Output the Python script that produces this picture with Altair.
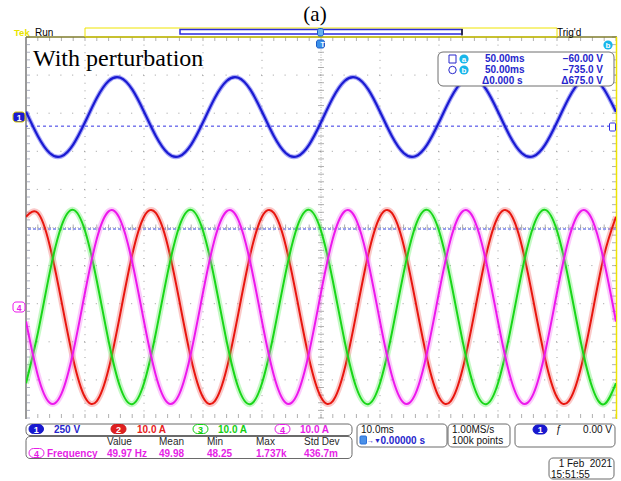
import altair as alt
import pandas as pd

# ---- acquisition record: time (ms, trigger at 0) and channel samples ----
time_ms = [-50, -48, -46, -44, -42, -40, -38, -36, -34, -32,
           -30, -28, -26, -24, -22, -20, -18, -16, -14, -12,
           -10, -8, -6, -4, -2, 0, 2, 4, 6, 8,
           10, 12, 14, 16, 18, 20, 22, 24, 26, 28,
           30, 32, 34, 36, 38, 40, 42, 44, 46, 48, 50]

# channel 1: grid voltage (V)
ch1_volts = [34.5, -124.8, -236.4, -257.7, -180.7, -34.5, 124.8, 236.4, 257.7, 180.7,
             34.5, -124.8, -236.4, -257.7, -180.7, -34.5, 124.8, 236.4, 257.7, 180.7,
             34.5, -124.8, -236.4, -257.7, -180.7, -34.5, 124.8, 236.4, 257.7, 180.7,
             34.5, -124.8, -236.4, -257.7, -180.7, -34.5, 124.8, 236.4, 257.7, 180.7,
             34.5, -124.8, -236.4, -257.7, -180.7, -34.5, 124.8, 236.4, 257.7, 180.7,
             34.5]

# channels 2-4: phase currents (A)
ch2_amps = [23.7, 24.7, 16.3, 1.6, -13.7, -23.7, -24.7, -16.3, -1.6, 13.7,
            23.7, 24.7, 16.3, 1.6, -13.7, -23.7, -24.7, -16.3, -1.6, 13.7,
            23.7, 24.7, 16.3, 1.6, -13.7, -23.7, -24.7, -16.3, -1.6, 13.7,
            23.7, 24.7, 16.3, 1.6, -13.7, -23.7, -24.7, -16.3, -1.6, 13.7,
            23.7, 24.7, 16.3, 1.6, -13.7, -23.7, -24.7, -16.3, -1.6, 13.7,
            23.7]
ch3_amps = [-20.0, -6.9, 8.9, 21.2, 25.5, 20.0, 6.9, -8.9, -21.2, -25.5,
            -20.0, -6.9, 8.9, 21.2, 25.5, 20.0, 6.9, -8.9, -21.2, -25.5,
            -20.0, -6.9, 8.9, 21.2, 25.5, 20.0, 6.9, -8.9, -21.2, -25.5,
            -20.0, -6.9, 8.9, 21.2, 25.5, 20.0, 6.9, -8.9, -21.2, -25.5,
            -20.0, -6.9, 8.9, 21.2, 25.5, 20.0, 6.9, -8.9, -21.2, -25.5,
            -20.0]
ch4_amps = [-3.8, -17.9, -25.1, -22.8, -11.8, 3.8, 17.9, 25.1, 22.8, 11.8,
            -3.8, -17.9, -25.1, -22.8, -11.8, 3.8, 17.9, 25.1, 22.8, 11.8,
            -3.8, -17.9, -25.1, -22.8, -11.8, 3.8, 17.9, 25.1, 22.8, 11.8,
            -3.8, -17.9, -25.1, -22.8, -11.8, 3.8, 17.9, 25.1, 22.8, 11.8,
            -3.8, -17.9, -25.1, -22.8, -11.8, 3.8, 17.9, 25.1, 22.8, 11.8,
            -3.8]

# horizontal cursors a / b on channel 1 (V)
cursor_volts = [-60.0, -735.0]

# vertical settings (per division) and channel positions (divisions)
CH1_PER_DIV = 250.0
CUR_PER_DIV = 10.0
CH1_POS = 2.90
CUR_POS = -2.087

# graticule geometry in pixels
W, H = 590, 381
LEFT, TOP = 26, 37

xs = alt.Scale(domain=[-50, 50], nice=False, zero=False)
ys = alt.Scale(domain=[-5, 5], nice=False, zero=False)

ONE = pd.DataFrame({"k": [0]})


def to_div(values, per_div, pos):
    return pd.DataFrame({"t": time_ms, "div": [v / per_div + pos for v in values]})


def trace(df, core, halo, core_w, halo_w, halo_op):
    base = alt.Chart(df).encode(
        x=alt.X("t:Q", scale=xs, axis=None),
        y=alt.Y("div:Q", scale=ys, axis=None),
    )
    return [
        base.mark_line(color=halo, strokeWidth=halo_w, opacity=halo_op,
                       interpolate="natural", clip=True),
        base.mark_line(color=core, strokeWidth=core_w, interpolate="natural", clip=True),
    ]


def px_x(v):
    return alt.value(v - LEFT)


def px_y(v):
    return alt.value(v - TOP)


def txt(x, y, s, color="#000000", size=10, weight="bold", align="left",
        font="Liberation Sans", baseline="middle"):
    return alt.Chart(ONE).mark_text(
        text=s, align=align, baseline=baseline, font=font, fontSize=size,
        fontWeight=weight, color=color,
    ).encode(x=px_x(x), y=px_y(y))


def box(x1, y1, x2, y2, stroke="#6a6a6a", fill="transparent", r=4, sw=1):
    return alt.Chart(ONE).mark_rect(
        cornerRadius=r, fill=fill, stroke=stroke, strokeWidth=sw,
    ).encode(x=px_x(x1), x2=px_x(x2), y=px_y(y1), y2=px_y(y2))


def seg(x1, y1, x2, y2, color, sw=1, dash=None):
    kw = dict(color=color, strokeWidth=sw)
    if dash:
        kw["strokeDash"] = dash
    return alt.Chart(ONE).mark_rule(**kw).encode(
        x=px_x(x1), x2=px_x(x2), y=px_y(y1), y2=px_y(y2))


def dot(x, y, color, size=80, filled=True, sw=1):
    return alt.Chart(ONE).mark_point(
        shape="circle", filled=filled, size=size, color=color,
        strokeWidth=sw, opacity=1,
    ).encode(x=px_x(x), y=px_y(y))


layers = []

# ---- graticule ----
grid_x = pd.DataFrame({"gx": [-40, -30, -20, -10, 10, 20, 30, 40]})
grid_y = pd.DataFrame({"gy": [-4, -3, -2, -1, 1, 2, 3, 4]})
layers.append(alt.Chart(grid_x).mark_rule(color="#9c9c9c", strokeWidth=1, strokeDash=[1, 6.62])
              .encode(x=alt.X("gx:Q", scale=xs, axis=None)))
layers.append(alt.Chart(grid_y).mark_rule(color="#9c9c9c", strokeWidth=1, strokeDash=[1, 10.8])
              .encode(y=alt.Y("gy:Q", scale=ys, axis=None)))
layers.append(alt.Chart(pd.DataFrame({"gx": [0]})).mark_rule(color="#b4b4b4", strokeWidth=1, strokeDash=[1, 1.5])
              .encode(x=alt.X("gx:Q", scale=xs, axis=None)))
layers.append(alt.Chart(pd.DataFrame({"gy": [0]})).mark_rule(color="#b4b4b4", strokeWidth=1, strokeDash=[1, 1.5])
              .encode(y=alt.Y("gy:Q", scale=ys, axis=None)))

minor_x = pd.DataFrame({"mx": [i * 2 for i in range(-25, 26)]})
minor_y = pd.DataFrame({"my": [i * 0.2 for i in range(-25, 26)]})
tick_col = "#8e8e8e"
for yy in (2, H - 2, H / 2):
    layers.append(alt.Chart(minor_x).mark_tick(orient="vertical", size=6 if yy == H / 2 else 4,
                                               thickness=1, color=tick_col)
                  .encode(x=alt.X("mx:Q", scale=xs, axis=None), y=alt.value(yy)))
for xx in (2, W - 2, W / 2):
    layers.append(alt.Chart(minor_y).mark_tick(orient="horizontal", size=6 if xx == W / 2 else 4,
                                               thickness=1, color="#8a90a8" if xx == 2 else tick_col)
                  .encode(y=alt.Y("my:Q", scale=ys, axis=None), x=alt.value(xx)))

# frame edges
layers.append(seg(26, 37, 26, 419, "#9a9a9a", sw=2))
layers.append(seg(26, 37, 617, 37, "#7f7c2c", sw=1.5))
layers.append(seg(616.5, 37, 616.5, 419, "#efe400", sw=1.5))

# ---- cursors ----
cur_df = pd.DataFrame({"div": [v / CH1_PER_DIV + CH1_POS for v in cursor_volts], "id": ["a", "b"]})
layers.append(alt.Chart(cur_df.iloc[[1]]).mark_rule(color="#98a0ec", strokeWidth=2, strokeDash=[3, 2])
              .encode(y=alt.Y("div:Q", scale=ys, axis=None)))
layers.append(alt.Chart(cur_df.iloc[[0]]).mark_rule(color="#3434e4", strokeWidth=1, strokeDash=[3, 3])
              .encode(y=alt.Y("div:Q", scale=ys, axis=None)))

# ---- waveforms ----
layers += trace(to_div(ch2_amps, CUR_PER_DIV, CUR_POS), "#e8160f", "#f26060", 2.0, 6, 0.35)
layers += trace(to_div(ch3_amps, CUR_PER_DIV, CUR_POS), "#19d619", "#5cec5c", 2.0, 6, 0.35)
layers += trace(to_div(ch4_amps, CUR_PER_DIV, CUR_POS), "#ec18ec", "#f46ef4", 2.0, 6, 0.35)
layers += trace(to_div(ch1_volts, CH1_PER_DIV, CH1_POS), "#1a1ad2", "#6262f0", 2.2, 4.5, 0.55)

# ---- header ----
BLUE = "#2626cc"
CYAN = "#18b6ea"
layers.append(txt(315, 21, "(a)", size=21, weight="normal", align="center",
                  font="Liberation Serif", baseline="alphabetic"))
layers.append(txt(14, 35.5, "Tek", color="#e8e400", size=9.5, baseline="alphabetic"))
layers.append(txt(35, 35.5, "Run", size=10, weight="normal", baseline="alphabetic"))
layers.append(box(85, 28, 557, 37, stroke="#efe400", r=0))
layers.append(box(180, 29.5, 462, 34, stroke="#2a2ae0", fill="#ffffff", r=0, sw=1.5))
layers.append(seg(462, 29, 462, 35.5, "#202020", sw=1.5))
layers.append(box(317.5, 28.5, 323.5, 36, stroke="#1a5ac8", fill="#66b0f0", r=2))
layers.append(txt(557, 35.5, "Trig'd", size=10, weight="normal", baseline="alphabetic"))
layers.append(box(316.5, 40, 324.5, 48, stroke="#1a5ac8", fill="#3a90e8", r=2))
layers.append(txt(320.5, 44.5, "T", color="white", size=7))

layers.append(txt(33, 66, "With perturbation", size=24, weight="normal",
                  font="Liberation Serif", baseline="alphabetic"))

# ---- cursor readout ----
layers.append(dot(608, 45, CYAN, size=85))
layers.append(txt(608, 45.5, "b", color="white", size=8, align="center"))
layers.append(box(438, 52, 614, 86, stroke="#6e6e6e", fill="white", r=5))
layers.append(box(449, 55, 456, 63, stroke=BLUE, r=0))
layers.append(dot(452.5, 70, BLUE, size=55, filled=False))
for yy, letter in ((59, "a"), (70, "b")):
    layers.append(dot(464, yy, CYAN, size=85))
    layers.append(txt(464, yy + 0.5, letter, color="white", size=8, align="center"))
layers.append(txt(485, 59, "50.00ms", color=BLUE))
layers.append(txt(603, 59, "\u221260.00 V", color=BLUE, align="right"))
layers.append(txt(485, 70, "50.00ms", color=BLUE))
layers.append(txt(603, 70, "\u2212735.0 V", color=BLUE, align="right"))
layers.append(txt(482, 81, "\u03940.000 s", color=BLUE))
layers.append(txt(603, 81, "\u0394675.0 V", color=BLUE, align="right"))

# ---- channel ground markers ----
layers.append(box(13, 112, 25, 122, stroke="#d8c800", fill="#1a1ad0", r=3))
layers.append(txt(19, 117.5, "1", color="white", size=8.5, align="center"))
layers.append(box(13, 302, 25, 312, stroke="#ec18ec", fill="white", r=3))
layers.append(txt(19, 307.5, "4", color="#ec18ec", size=8.5, align="center"))
layers.append(box(609.5, 123, 615.5, 131, stroke="#3030e0", fill="white", r=1))

# ---- bottom status area ----
RED = "#e8201a"
GREEN = "#12d012"
MAG = "#e61ee6"
layers.append(box(26, 424, 352, 435.5))
layers.append(box(26, 436.5, 352, 458.5))
layers.append(box(29, 424.5, 43.5, 433.5, stroke="#1818c8", fill="#1818d0", r=5))
layers.append(txt(36.3, 429.5, "1", color="white", size=9, align="center"))
layers.append(txt(54, 429.5, "250 V", color=BLUE))
layers.append(box(111, 424.5, 126, 433.5, stroke="#d01818", fill="#e02020", r=5))
layers.append(txt(118.5, 429.5, "2", color="white", size=9, align="center"))
layers.append(txt(137, 429.5, "10.0 A", color=RED))
layers.append(box(193, 424.5, 208, 433.5, stroke=GREEN, fill="white", r=5))
layers.append(txt(200.5, 429.5, "3", color=GREEN, size=9, align="center"))
layers.append(txt(218, 429.5, "10.0 A", color=GREEN))
layers.append(box(275, 424.5, 290, 433.5, stroke=MAG, fill="white", r=5))
layers.append(txt(282.5, 429.5, "4", color=MAG, size=9, align="center"))
layers.append(txt(300, 429.5, "10.0 A", color=MAG))

for xx, s in ((107, "Value"), (159, "Mean"), (207, "Min"), (256, "Max"), (304, "Std Dev")):
    layers.append(txt(xx, 442, s, color="#2a2a2a", weight="normal"))
layers.append(box(29, 448.5, 44, 457.5, stroke=MAG, fill="white", r=5))
layers.append(txt(36.5, 453.5, "4", color=MAG, size=9, align="center"))
for xx, s in ((47, "Frequency"), (107, "49.97 Hz"), (159, "49.98"), (207, "48.25"),
              (256, "1.737k"), (304, "436.7m")):
    layers.append(txt(xx, 453.5, s, color=MAG))

layers.append(box(357, 424, 447, 447))
layers.append(txt(361, 430, "10.0ms", color="#111111", weight="normal"))
layers.append(box(360, 436, 366.5, 444, stroke="#2a70d8", fill="#4a90e8", r=1))
layers.append(txt(367, 440.5, "\u2192\u25bc", color=BLUE, size=7))
layers.append(txt(380.5, 440.5, "0.00000 s", color=BLUE))

layers.append(box(448, 424, 510, 447))
layers.append(txt(452, 430, "1.00MS/s", color="#111111", weight="normal"))
layers.append(txt(452, 440.5, "100k points", color="#111111", weight="normal"))

layers.append(box(515, 424, 615, 447))
layers.append(box(533, 425, 547, 434, stroke="#1818c8", fill="#1818d0", r=5))
layers.append(txt(540.3, 430, "1", color="white", size=9, align="center"))
layers.append(txt(556, 430, "\u0192", color="#111111", size=10, weight="normal"))
layers.append(txt(612, 430, "0.00 V", color="#111111", weight="normal", align="right"))

layers.append(box(549, 458, 614, 479))
layers.append(txt(612, 464, "1 Feb \u00a02021", color="#111111", weight="normal", align="right"))
layers.append(txt(551, 474.5, "15:51:55", color="#111111", weight="normal"))

chart = alt.layer(*layers).properties(
    width=W,
    height=H,
    padding={"left": LEFT, "top": TOP, "right": 621 - LEFT - W, "bottom": 481 - TOP - H},
    autosize=alt.AutoSizeParams(type="none"),
    background="white",
).configure_view(stroke=None)

chart.save("out.html", embed_options={"renderer": "svg", "actions": False})
